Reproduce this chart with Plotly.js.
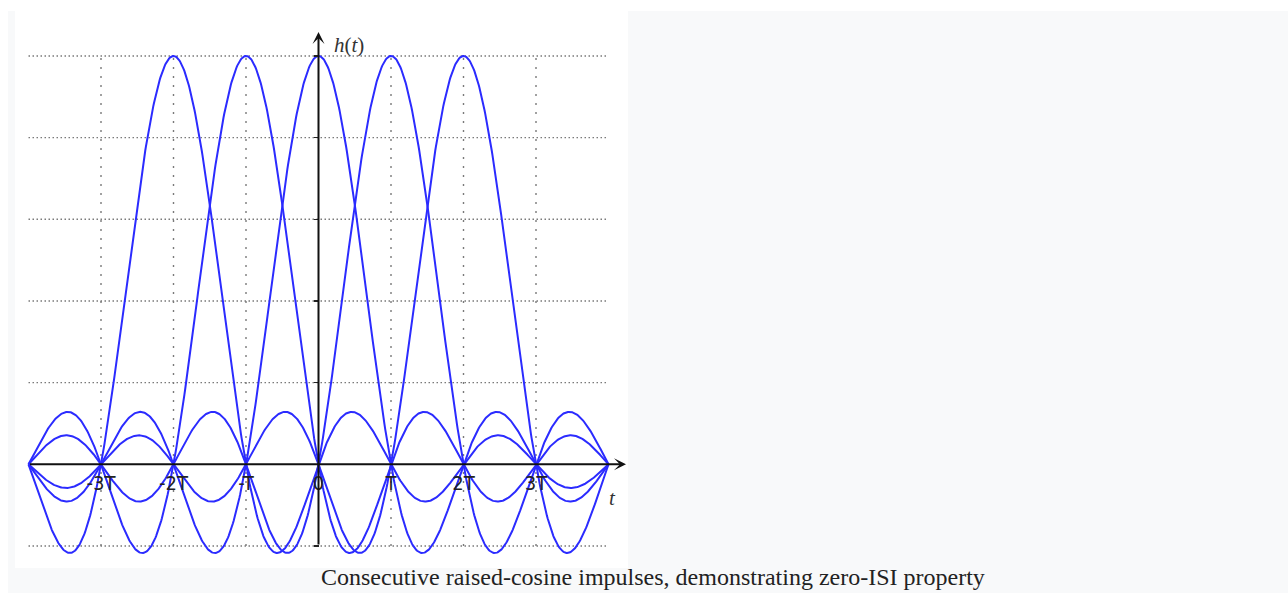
<!DOCTYPE html>
<html>
<head>
<meta charset="utf-8">
<script src="https://cdn.plot.ly/plotly-3.0.1.min.js"></script>
<style>
html,body{margin:0;padding:0;background:#ffffff;}
#chart{width:1288px;height:593px;}
</style>
</head>
<body>
<div id="chart"></div>
<script>
// ---- data ----
// pulse centres, in units of the symbol period T
var pulseCenters = [-2, -1, 0, 1, 2];
// roll-off factor of the raised-cosine pulses (tails match a pure sinc)
var rolloff = 0;
// time span drawn, in units of T
var tStart = -4;
var tEnd = 4;
var tStep = 0.01;
// axis ticks
var xTickVals = [-3, -2, -1, 0, 1, 2, 3];
var xTickLabels = ['-3T', '-2T', '-T', '0', 'T', '2T', '3T'];
var yTickVals = [-0.2, 0, 0.2, 0.4, 0.6, 0.8, 1.0];
var hGridVals = [-0.2, 0.2, 0.4, 0.6, 0.8, 1.0];
var vGridVals = [-3, -2, -1, 1, 2, 3];
var captionText = 'Consecutive raised-cosine impulses, demonstrating zero-ISI property';

// raised-cosine impulse response
function raisedCosine(t, beta) {
  var s = (Math.abs(t) < 1e-9) ? 1 : Math.sin(Math.PI * t) / (Math.PI * t);
  if (beta === 0) return s;
  var d = 1 - Math.pow(2 * beta * t, 2);
  if (Math.abs(d) < 1e-9) return s * Math.PI / 4;
  return s * Math.cos(Math.PI * beta * t) / d;
}

var tSamples = [];
for (var i = 0; Math.round(tStart / tStep) + i <= Math.round(tEnd / tStep); i++) {
  tSamples.push((Math.round(tStart / tStep) + i) * tStep);
}

var traces = pulseCenters.map(function (c) {
  return {
    type: 'scatter',
    mode: 'lines',
    x: tSamples,
    y: tSamples.map(function (t) { return raisedCosine(t - c, rolloff); }),
    line: {color: '#2b2bff', width: 2},
    hoverinfo: 'skip',
    showlegend: false
  };
});

// ---- geometry ----
var W = 1288, H = 593;
var L = 15, R = 660, Tm = 11, B = 25;
var pw = W - L - R, ph = H - Tm - B;
var x0px = 318.5, Tpx = 72.5;
var y0px = 464.3, Upx = 408.3;
function px2x(p) { return (p - x0px) / Tpx; }
function py2y(p) { return (y0px - p) / Upx; }
function px2paper(p) { return (p - L) / pw; }
function py2paper(p) { return (H - B - p) / ph; }

var shapes = [];
// outer light-grey figure box and white image area
shapes.push({type: 'rect', xref: 'paper', yref: 'paper', layer: 'below',
  x0: px2paper(8), x1: px2paper(1288), y0: py2paper(593), y1: py2paper(11),
  fillcolor: '#f8f9fa', line: {width: 0}});
shapes.push({type: 'rect', xref: 'paper', yref: 'paper', layer: 'below',
  x0: 0, x1: 1, y0: 0, y1: 1,
  fillcolor: '#ffffff', line: {width: 0}});
hGridVals.forEach(function (v) {
  shapes.push({type: 'line', xref: 'x', yref: 'y', layer: 'below',
    x0: tStart, x1: tEnd, y0: v, y1: v,
    line: {color: '#7a7a7a', width: 1.4, dash: '1.5px,2.5px'}});
});
vGridVals.forEach(function (v) {
  shapes.push({type: 'line', xref: 'x', yref: 'y', layer: 'below',
    x0: v, x1: v, y0: hGridVals[0], y1: hGridVals[hGridVals.length - 1],
    line: {color: '#7a7a7a', width: 1.4, dash: '2px,7px'}});
});

var annotations = [
  // x axis with arrow
  {x: px2x(626), y: 0, ax: tStart, ay: 0, xref: 'x', yref: 'y', axref: 'x', ayref: 'y',
   text: '', showarrow: true, arrowhead: 3, arrowsize: 1, arrowwidth: 2, arrowcolor: '#111111'},
  // y axis with arrow
  {x: 0, y: py2y(32), ax: 0, ay: yTickVals[0], xref: 'x', yref: 'y', axref: 'x', ayref: 'y',
   text: '', showarrow: true, arrowhead: 3, arrowsize: 1, arrowwidth: 2, arrowcolor: '#111111'},
  {x: px2x(332), y: py2y(45), xref: 'x', yref: 'y', xanchor: 'left', yanchor: 'middle',
   text: '<i>h</i>(<i>t</i>)', showarrow: false,
   font: {family: 'Liberation Serif, DejaVu Serif, serif', size: 21, color: '#333333'}},
  {x: px2x(612), y: py2y(498), xref: 'x', yref: 'y', xanchor: 'center', yanchor: 'middle',
   text: '<i>t</i>', showarrow: false,
   font: {family: 'Liberation Serif, DejaVu Serif, serif', size: 21, color: '#333333'}},
  {x: px2paper(653), y: py2paper(577), xref: 'paper', yref: 'paper', xanchor: 'center', yanchor: 'middle',
   text: captionText, showarrow: false,
   font: {family: 'Liberation Serif, Times New Roman, serif', size: 24, color: '#222222'}}
];

var layout = {
  width: W, height: H,
  margin: {l: L, r: R, t: Tm, b: B, pad: 0},
  paper_bgcolor: '#ffffff',
  plot_bgcolor: 'rgba(0,0,0,0)',
  showlegend: false,
  xaxis: {
    range: [px2x(L), px2x(W - R)],
    anchor: 'free', position: py2paper(y0px),
    showgrid: false, zeroline: false, showline: false,
    tickmode: 'array', tickvals: xTickVals, ticktext: xTickLabels,
    ticks: '', ticklabelstandoff: 5,
    tickfont: {family: 'Liberation Sans Narrow, DejaVu Sans Condensed, Arial Narrow, sans-serif', size: 20, color: '#222222'},
    fixedrange: true
  },
  yaxis: {
    range: [py2y(H - B), py2y(Tm)],
    anchor: 'free', position: px2paper(x0px),
    showgrid: false, zeroline: false, showline: false,
    tickmode: 'array', tickvals: yTickVals,
    showticklabels: false,
    ticks: 'outside', ticklen: 5, tickwidth: 1.5, tickcolor: '#222222',
    fixedrange: true
  },
  shapes: shapes,
  annotations: annotations
};

Plotly.newPlot('chart', traces, layout, {displayModeBar: false, staticPlot: true});
</script>
</body>
</html>
